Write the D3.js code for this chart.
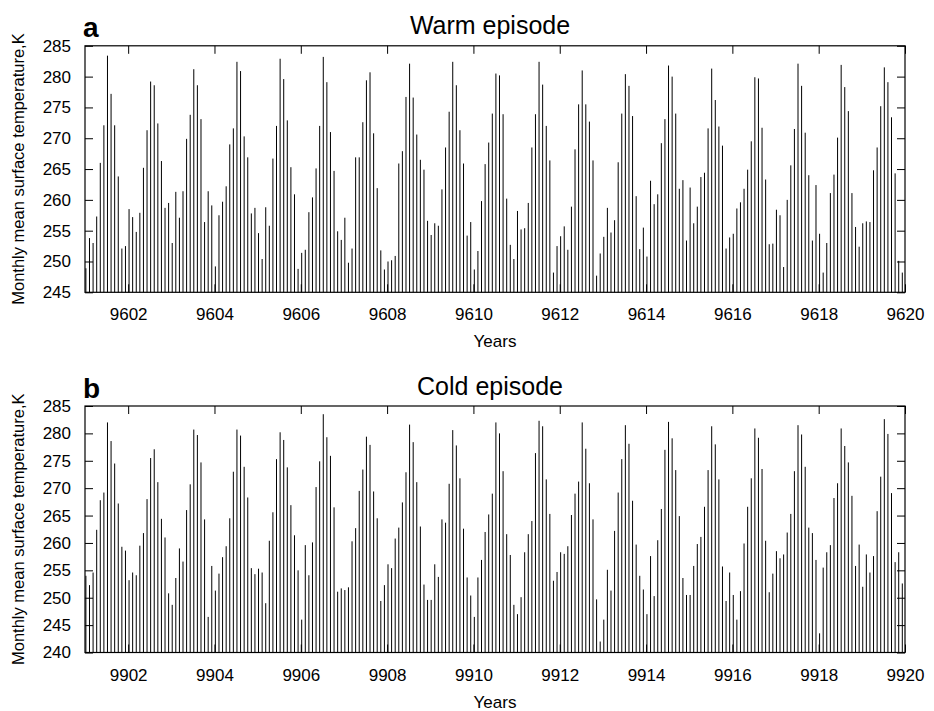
<!DOCTYPE html>
<html>
<head>
<meta charset="utf-8">
<script src="https://cdn.jsdelivr.net/npm/d3@7"></script>
<style>
  body { margin: 0; background: #fff; }
  text { font-family: "Liberation Sans", Arial, sans-serif; fill: #000; }
</style>
</head>
<body>
<svg id="chart" width="934" height="711"></svg>
<script>
// monthly values, 19 years x 12 months per episode
const warmStart = 9601;
const warmTemps = [
  248.9, 253.8, 253.0, 257.3, 266.0, 272.1, 283.4, 277.2, 272.1, 263.8, 252.1, 252.5,
  258.5, 257.2, 254.8, 257.9, 265.2, 271.3, 279.2, 278.6, 272.4, 266.3, 258.7, 259.5,
  253.0, 261.3, 257.1, 261.4, 269.9, 273.8, 281.2, 278.6, 273.1, 256.4, 261.4, 259.1,
  249.2, 257.5, 259.7, 262.2, 269.0, 271.6, 282.4, 280.9, 270.3, 266.9, 257.8, 258.7,
  254.6, 250.4, 258.8, 255.8, 266.7, 272.0, 282.9, 279.6, 272.9, 265.3, 260.9, 248.8,
  251.4, 251.9, 258.0, 260.4, 265.1, 272.0, 283.2, 279.1, 271.0, 264.7, 254.9, 253.5,
  257.1, 249.8, 252.1, 266.9, 266.9, 272.6, 279.4, 280.7, 270.8, 261.9, 251.8, 248.7,
  250.0, 250.2, 250.9, 265.9, 267.9, 276.7, 282.1, 276.6, 270.6, 266.5, 264.9, 256.6,
  254.3, 256.2, 255.8, 261.7, 268.5, 274.3, 282.4, 278.6, 271.3, 265.9, 254.2, 256.4,
  248.7, 251.7, 259.8, 265.8, 269.3, 274.0, 280.5, 280.2, 273.9, 260.2, 252.7, 250.4,
  258.2, 255.2, 255.4, 259.5, 268.5, 273.9, 282.4, 278.7, 272.0, 266.4, 248.2, 252.5,
  254.1, 255.7, 251.9, 258.9, 268.2, 275.5, 281.0, 275.5, 272.7, 266.4, 247.7, 251.3,
  254.0, 258.7, 254.7, 256.7, 266.1, 274.0, 280.4, 278.5, 273.6, 260.6, 252.0, 255.5,
  250.8, 263.1, 259.3, 260.9, 269.2, 273.1, 281.8, 280.0, 274.0, 261.8, 263.2, 253.4,
  262.0, 256.2, 258.9, 263.7, 264.4, 271.6, 281.3, 276.2, 271.9, 268.8, 252.1, 253.9,
  254.5, 258.6, 259.6, 261.8, 264.9, 269.5, 279.9, 279.7, 271.7, 263.3, 252.8, 252.9,
  258.4, 257.5, 249.1, 260.0, 265.6, 271.5, 282.1, 278.5, 270.9, 264.0, 253.4, 262.4,
  254.5, 248.2, 253.0, 261.1, 264.1, 270.1, 281.9, 278.3, 274.4, 261.1, 255.6, 252.4,
  256.2, 256.5, 256.4, 264.8, 268.5, 275.2, 281.5, 279.1, 273.4, 264.3, 250.1, 248.2
];

const coldStart = 9901;
const coldTemps = [
  254.0, 252.3, 254.6, 262.4, 267.8, 269.2, 282.0, 278.6, 274.5, 267.2, 259.3, 258.6,
  253.2, 254.6, 254.1, 259.5, 261.8, 268.0, 275.5, 277.1, 271.1, 264.4, 261.0, 250.8,
  248.7, 253.6, 259.0, 256.6, 266.0, 270.7, 280.7, 279.7, 274.7, 264.3, 246.5, 255.8,
  251.3, 254.4, 257.4, 259.4, 264.5, 273.0, 280.7, 279.6, 273.9, 268.3, 255.4, 254.3,
  255.3, 254.6, 249.0, 260.4, 265.6, 275.3, 280.2, 278.8, 273.8, 266.9, 261.4, 255.0,
  246.0, 259.6, 254.1, 260.1, 270.2, 274.9, 283.5, 279.3, 275.9, 266.5, 251.1, 251.7,
  251.4, 251.9, 260.3, 262.7, 269.5, 273.4, 279.4, 277.9, 269.4, 264.5, 249.4, 252.3,
  256.1, 255.4, 260.8, 262.8, 267.4, 272.9, 281.6, 278.4, 271.1, 263.0, 252.4, 249.6,
  249.6, 256.1, 253.8, 264.3, 263.7, 270.8, 280.6, 277.8, 271.8, 262.6, 253.7, 250.4,
  246.5, 253.7, 256.9, 262.0, 265.2, 269.0, 282.0, 280.0, 273.1, 261.6, 257.8, 248.7,
  247.0, 250.1, 258.3, 261.6, 264.0, 276.4, 282.3, 281.3, 271.6, 265.3, 253.1, 254.7,
  258.3, 258.0, 259.4, 265.1, 269.0, 271.2, 282.0, 277.2, 270.9, 264.3, 249.7, 242.0,
  246.0, 255.1, 251.3, 262.2, 269.2, 275.3, 281.5, 278.1, 267.7, 259.7, 254.0, 251.5,
  247.0, 257.6, 250.3, 260.5, 266.2, 277.0, 282.1, 279.1, 273.3, 264.9, 253.6, 250.5,
  250.5, 255.8, 259.8, 261.1, 266.6, 273.3, 281.3, 278.0, 271.6, 255.7, 249.4, 254.6,
  250.5, 246.0, 251.2, 259.9, 266.6, 271.8, 280.9, 279.2, 273.5, 260.4, 251.0, 254.4,
  258.5, 257.2, 257.9, 261.9, 265.3, 273.1, 281.5, 279.8, 273.9, 262.8, 261.8, 256.9,
  243.5, 255.5, 258.3, 259.6, 268.2, 270.9, 280.9, 277.7, 274.7, 268.6, 255.8, 259.7,
  252.0, 257.9, 254.6, 257.6, 265.8, 272.1, 282.6, 279.9, 269.1, 256.5, 258.3, 252.6
];

const warmYTicks = [245, 250, 255, 260, 265, 270, 275, 280, 285];
const coldYTicks = [240, 245, 250, 255, 260, 265, 270, 275, 280, 285];
const warmXTicks = d3.range(9602, 9621, 2);
const coldXTicks = d3.range(9902, 9921, 2);

const svg = d3.select("#chart");
const left = 85, right = 905, plotH = 246.5;

function drawPanel(o) {
  const g = svg.append("g").attr("transform", `translate(0,${o.top})`);
  const x = d3.scaleLinear().domain([o.start, o.start + 19]).range([left, right]);
  const y = d3.scaleLinear().domain([o.yMin, 285]).range([plotH, 0]);

  // impulses
  g.selectAll("line.bar")
    .data(o.temps)
    .enter().append("line")
    .attr("class", "bar")
    .attr("x1", (d, i) => x(o.start + (i + 0.25) / 12))
    .attr("x2", (d, i) => x(o.start + (i + 0.25) / 12))
    .attr("y1", y(o.yMin))
    .attr("y2", d => y(d))
    .attr("stroke", "#000")
    .attr("stroke-width", 1);

  // axes with inward ticks on all four sides
  const fmt = d3.format("d");
  const bottom = g.append("g").attr("transform", `translate(0,${plotH})`)
    .call(d3.axisBottom(x).tickValues(o.xTicks).tickFormat(fmt).tickSizeInner(-8).tickSizeOuter(0).tickPadding(16));
  const top = g.append("g")
    .call(d3.axisTop(x).tickValues(o.xTicks).tickFormat("").tickSizeInner(-8).tickSizeOuter(0));
  const leftAx = g.append("g").attr("transform", `translate(${left},0)`)
    .call(d3.axisLeft(y).tickValues(o.yTicks).tickFormat(fmt).tickSizeInner(-8).tickSizeOuter(0).tickPadding(14));
  const rightAx = g.append("g").attr("transform", `translate(${right},0)`)
    .call(d3.axisRight(y).tickValues(o.yTicks).tickFormat("").tickSizeInner(-8).tickSizeOuter(0));
  [bottom, top, leftAx, rightAx].forEach(a => {
    a.select(".domain").remove();
    a.selectAll(".tick line").attr("stroke", "#000").attr("stroke-width", 1);
    a.selectAll("text").style("font-size", "17px").attr("fill", "#000");
  });

  g.append("rect")
    .attr("x", left).attr("y", 0)
    .attr("width", right - left).attr("height", plotH)
    .attr("fill", "none").attr("stroke", "#000").attr("stroke-width", 1.2);

  g.append("text")
    .attr("x", 490).attr("y", -11.5)
    .attr("text-anchor", "middle")
    .style("font-size", "25px")
    .text(o.title);
  g.append("text")
    .attr("x", 83).attr("y", -8.5)
    .style("font-size", "28px").style("font-weight", "bold")
    .text(o.letter);
  g.append("text")
    .attr("x", (left + right) / 2).attr("y", plotH + 55)
    .attr("text-anchor", "middle")
    .style("font-size", "17px")
    .text("Years");
  g.append("text")
    .attr("transform", `translate(24,${plotH / 2}) rotate(-90)`)
    .attr("text-anchor", "middle")
    .style("font-size", "16.5px")
    .text("Monthly mean surface temperature,K");
}

drawPanel({ top: 45.8, start: warmStart, temps: warmTemps, yMin: 245, yTicks: warmYTicks, xTicks: warmXTicks, title: "Warm episode", letter: "a" });
drawPanel({ top: 406, start: coldStart, temps: coldTemps, yMin: 240, yTicks: coldYTicks, xTicks: coldXTicks, title: "Cold episode", letter: "b" });
</script>
</body>
</html>
